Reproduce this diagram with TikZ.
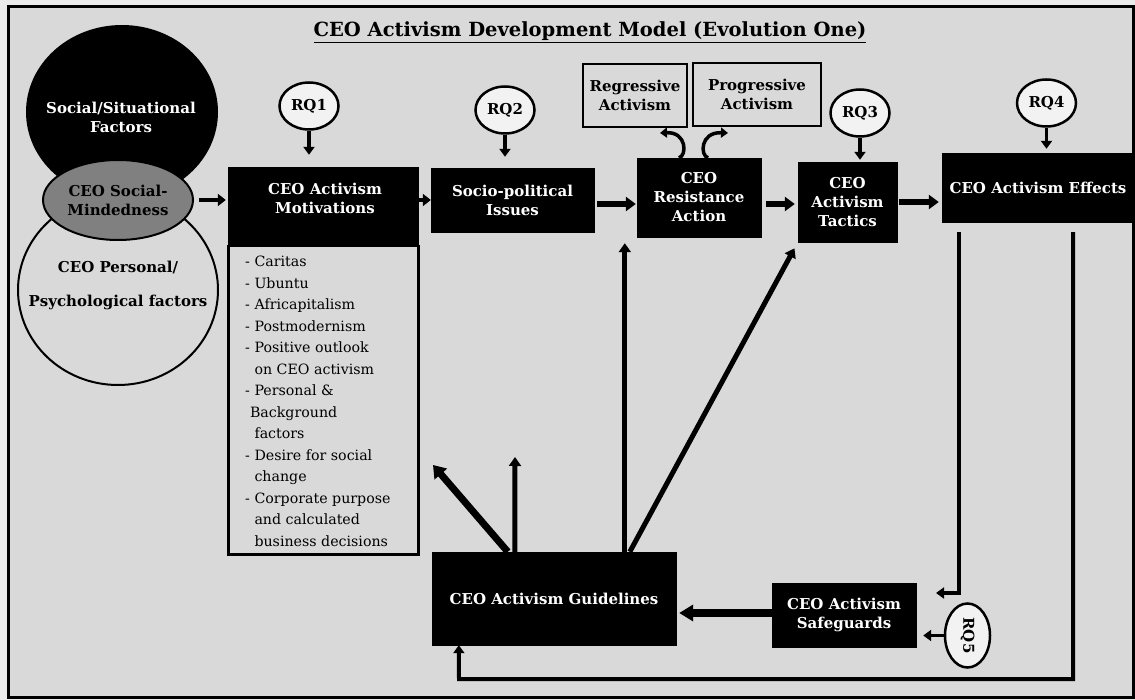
\documentclass[tikz,border=0pt]{standalone}
\usepackage{fontspec}
\setmainfont{DejaVu Serif}
\usetikzlibrary{arrows.meta,shapes.geometric}
\definecolor{bgc}{gray}{0.85}
\definecolor{outc}{gray}{0.92}
\definecolor{rqc}{gray}{0.95}
\definecolor{midc}{gray}{0.5}
\begin{document}
\begin{tikzpicture}[x=1pt,y=-1pt,
  lbl/.style={font=\bfseries\fontsize{15}{19}\selectfont, align=center},
  blk/.style={fill=black, draw=black, inner sep=0pt, text=white, lbl},
  wbox/.style={fill=bgc, draw=black, line width=2.5pt, inner sep=0pt, lbl},
  rq/.style={ellipse, fill=rqc, draw=black, line width=2.5pt, inner sep=0pt, lbl, minimum width=59pt, minimum height=47pt},
  bigA/.style={line width=6pt, -{Triangle[width=14pt,length=10pt]}},
  smA/.style={line width=4.5pt, -{Triangle[width=12pt,length=8pt]}},
  rqA/.style={line width=3.5pt, -{Triangle[width=11pt,length=8pt]}},
  lineA/.style={line width=4pt, -{Triangle[width=11pt,length=8pt]}},
  diagA/.style={line width=7pt, -{Triangle[width=16pt,length=12pt]}},
  medA/.style={line width=5pt, -{Triangle[width=12pt,length=9pt]}},
  heavyA/.style={line width=8pt, -{Triangle[width=16pt,length=14pt]}},
  curveA/.style={line width=3.5pt, -{Triangle[width=10pt,length=7pt]}},
]
\useasboundingbox (0,0) rectangle (1135,700);
\fill[outc] (0,0) rectangle (1135,700);
\draw[line width=3pt, fill=bgc] (8,7) rectangle (1133,697);

\node[font=\bfseries\fontsize{19.5}{23}\selectfont, inner sep=0pt] (title) at (590,32) {\underline{CEO Activism Development Model (Evolution One)}};

% Venn circles
\node[ellipse, draw=black, line width=2pt, fill=bgc, minimum width=200pt, minimum height=190pt] (psy) at (118,290) {};
\node[ellipse, fill=black, minimum width=192pt, minimum height=174pt] (soc) at (122,112) {};
\node[ellipse, draw=black, line width=2pt, fill=midc, minimum width=150pt, minimum height=80pt, inner sep=0pt, lbl] (sm) at (118,200) {CEO Social-\\Mindedness};
\node[lbl, text=white] (socT) at (121,117) {Social/Situational\\Factors};
\node[lbl, font=\bfseries\fontsize{15}{34}\selectfont] (psyT) at (118,285) {CEO Personal/\\Psychological factors};

% Top row boxes
\node[blk, minimum width=190pt, minimum height=78pt] (mot) at (323,206) {};
\node[lbl, text=white] (motT) at (325,198) {CEO Activism\\Motivations};
\node[draw=black, line width=2.5pt, minimum width=190pt, minimum height=308pt, anchor=north west, inner sep=0pt] (list) at (227,245) {};
\node[anchor=north west, align=left, inner sep=0pt, font=\fontsize{14.2}{21.5}\selectfont] (listT) at (245,256) {- Caritas\\- Ubuntu\\- Africapitalism\\- Postmodernism\\- Positive outlook\\\phantom{- }on CEO activism\\- Personal \&\\\phantom{-}Background\\\phantom{- }factors\\- Desire for social\\\phantom{- }change\\- Corporate purpose\\\phantom{- }and calculated\\\phantom{- }business decisions};

\node[blk, minimum width=163pt, minimum height=64pt] (socio) at (512.5,200) {Socio-political\\Issues};
\node[blk, minimum width=124pt, minimum height=79pt] (resist) at (699,197.5) {CEO\\Resistance\\Action};
\node[blk, minimum width=99pt, minimum height=80pt] (tact) at (847.5,202) {CEO\\Activism\\Tactics};
\node[blk, minimum width=192pt, minimum height=69pt] (eff) at (1038,187.5) {CEO Activism Effects};

\node[wbox, minimum width=104pt, minimum height=63pt] (reg) at (635,95.5) {Regressive\\Activism};
\node[wbox, minimum width=128pt, minimum height=63pt] (prog) at (757,94.5) {Progressive\\Activism};

\node[rq] (rq1) at (309,106) {RQ1};
\node[rq] (rq2) at (505,110) {RQ2};
\node[rq] (rq3) at (860,113) {RQ3};
\node[rq] (rq4) at (1046.5,103) {RQ4};

% Bottom row
\node[blk, minimum width=244pt, minimum height=93pt] (guide) at (554,598.5) {CEO Activism Guidelines};
\node[blk, minimum width=144pt, minimum height=64pt] (safe) at (844,615) {CEO Activism\\Safeguards};
\node[ellipse, fill=rqc, draw=black, line width=2.5pt, inner sep=0pt, lbl, minimum width=45pt, minimum height=64pt] (rq5) at (967.5,635.5) {\rotatebox{-90}{RQ5}};

% coordinates for free ends
\coordinate (tipL) at (660,133);
\coordinate (tipR) at (728,133);
\coordinate (sgin) at (936,593);
\coordinate (bl) at (459,679);
\coordinate (tipA) at (433,465);
\coordinate (tipB) at (515,457);
\coordinate (e1) at ([xshift=17pt,yshift=-10pt]eff.south west);
\coordinate (e2) at ([xshift=-61pt,yshift=-10pt]eff.south east);
\coordinate (g1) at ([xshift=76pt]guide.north west);
\coordinate (g1b) at ([xshift=83pt]guide.north west);
\coordinate (g2) at ([xshift=193pt]guide.north west);
\coordinate (g3) at ([xshift=198pt]guide.north west);

% connectors
\draw[smA, shorten <=5pt, shorten >=2pt] (sm.east) -- (sm.east -| mot.west);
\draw[smA] (socio.west -| mot.east) -- (socio.west);
\draw[bigA, shorten <=3pt, shorten >=1pt] (socio.east |- 0,204) -- (resist.west |- 0,204);
\draw[bigA, shorten <=5pt, shorten >=3pt] (resist.east |- 0,204) -- (tact.west |- 0,204);
\draw[bigA, shorten <=2pt, shorten >=3pt] (tact.east) -- (tact.east -| eff.west);

\draw[rqA, shorten >=12pt] (rq1.south) -- (rq1.south |- mot.north);
\draw[rqA, shorten >=11pt] (rq2.south) -- (rq2.south |- socio.north);
\draw[rqA, shorten >=2pt] (rq3.south) -- (rq3.south |- tact.north);
\draw[rqA, shorten >=4pt] (rq4.south) -- (rq4.south |- eff.north);

\draw[curveA] ([xshift=-20pt]resist.north) .. controls ([xshift=-12pt,yshift=2pt]resist.north) and ([xshift=-12pt,yshift=26pt]resist.north) .. (tipL);
\draw[curveA] ([xshift=9pt]resist.north) .. controls ([xshift=1pt,yshift=2pt]resist.north) and ([xshift=1pt,yshift=26pt]resist.north) .. (tipR);

\draw[lineA] (e1) |- (sgin);
\draw[lineA] (e2) |- (bl) -- ([xshift=27pt]guide.south west);
\draw[heavyA, shorten >=3pt] (safe.west |- 0,613) -- (guide.east |- 0,613);
\draw[rqA, shorten >=7pt] (rq5.west) -- (rq5.west -| safe.east);

\draw[diagA] (g1) -- (tipA);
\draw[medA] (g1b) -- (tipB);
\draw[medA, shorten >=6pt] (g2) -- (g2 |- resist.south);
\draw[medA, shorten >=7pt] (g3) -- (tact.south west);
\end{tikzpicture}
\end{document}
